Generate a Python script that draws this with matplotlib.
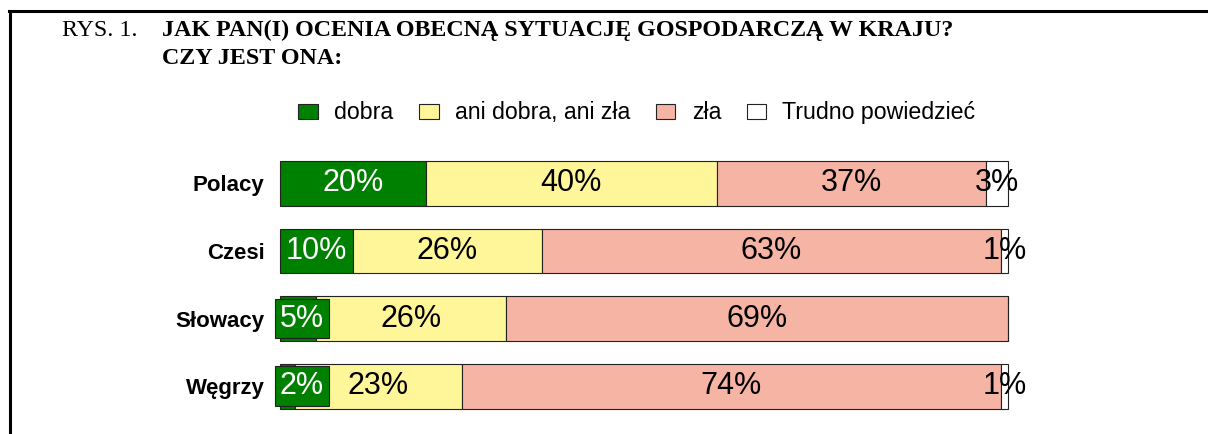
import numpy as np
import matplotlib
matplotlib.use('Agg')
import matplotlib.pyplot as plt
from matplotlib.lines import Line2D
from matplotlib.patches import Patch

# ── Dane ──────────────────────────────────────────────────────────────────────
kraje     = ['Polacy', 'Czesi', 'Słowacy', 'Węgrzy']
kategorie = ['dobra', 'ani dobra, ani zła', 'zła', 'Trudno powiedzieć']
dobra     = [20, 10, 5, 2]
ani       = [40, 26, 26, 23]
zla       = [37, 63, 69, 74]
trudno    = [3, 1, 0, 1]

kolory    = ['#008000', '#FFF599', '#F5B4A4', '#FFFFFF']
kolor_txt = ['white', 'black', 'black', 'black']

W, H = 1208, 434
fig = plt.figure(figsize=(W / 100, H / 100), dpi=100)
plt.rcParams['font.family'] = ['Liberation Sans', 'DejaVu Sans']

# ramka (góra + lewa krawędź)
fig.add_artist(Line2D([9 / W, 1], [1 - 11 / H, 1 - 11 / H], color='black', lw=2.2,
                      transform=fig.transFigure))
fig.add_artist(Line2D([10 / W, 10 / W], [1 - 11 / H, 0], color='black', lw=2.2,
                      transform=fig.transFigure))

# tytuł
fig.text(62 / W, 1 - 30 / H, 'RYS. 1.', family='Liberation Serif', fontsize=17.3,
         va='center', ha='left')
fig.text(162 / W, 1 - 30 / H, 'JAK PAN(I) OCENIA OBECNĄ SYTUACJĘ GOSPODARCZĄ W KRAJU?',
         family='Liberation Serif', fontsize=17.3, fontweight='bold', va='center', ha='left')
fig.text(162 / W, 1 - 58 / H, 'CZY JEST ONA:', family='Liberation Serif', fontsize=17.3,
         fontweight='bold', va='center', ha='left')

# ── Wykres ────────────────────────────────────────────────────────────────────
ax = fig.add_axes([280 / W, 1 - 420 / H, 728 / W, 270.4 / H])
y = np.arange(len(kraje))
serie = [dobra, ani, zla, trudno]
lewo = np.zeros(len(kraje))
for i, (vals, kol) in enumerate(zip(serie, kolory)):
    vals = np.array(vals, dtype=float)
    bary = ax.barh(y, vals, left=lewo, height=0.665, color=kol, edgecolor='#222222',
                   linewidth=0.8, label=kategorie[i])
    for b in bary:
        b.set_clip_on(False)
    for j, v in enumerate(vals):
        if v <= 0:
            continue
        xc = lewo[j] + v / 2
        if i == 0 and v < 8:
            # mała wartość — etykieta w ramce
            xc = max(xc, 3.0)
            ax.text(xc, y[j], f'{v:.0f}%', ha='center', va='center', fontsize=22,
                    color='white', zorder=5,
                    bbox=dict(boxstyle='square,pad=0.16', fc='#008000', ec='#222222', lw=0.8))
        else:
            ax.text(xc, y[j], f'{v:.0f}%', ha='center', va='center', fontsize=22,
                    color=kolor_txt[i], zorder=5)
    lewo += vals

ax.set_xlim(0, 100)
ax.set_ylim(3.5, -0.5)
ax.set_yticks(y)
ax.set_yticklabels(kraje, fontsize=16, fontweight='bold')
ax.tick_params(axis='y', length=0, pad=11)
ax.set_xticks([])
for s in ax.spines.values():
    s.set_visible(False)

# legenda
uchwyty = [Patch(facecolor=k, edgecolor='#222222', linewidth=0.8) for k in kolory]
fig.legend(uchwyty, kategorie, loc='center', bbox_to_anchor=(637 / W, 1 - 113 / H),
           ncol=4, frameon=False, fontsize=16.7, handlelength=0.85, handleheight=0.6,
           handletextpad=0.7, columnspacing=1.1)

fig.savefig('out.png', dpi=100)
